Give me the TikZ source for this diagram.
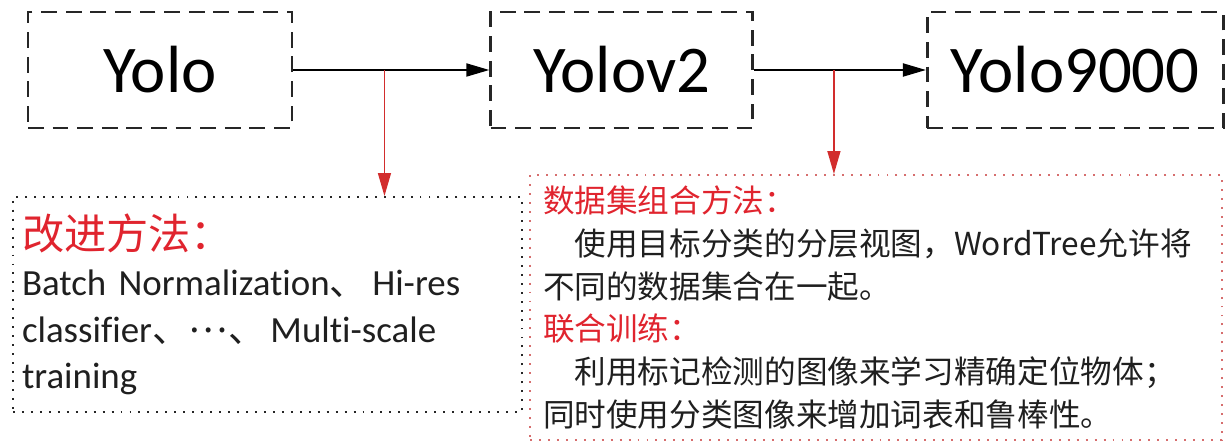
\documentclass[tikz,border=0pt]{standalone}
\usepackage{fontspec}
\setmainfont{Carlito}[Ligatures=NoCommon]
\newfontfamily\cjk{Noto Sans CJK SC}
\usetikzlibrary{arrows.meta,positioning,calc}
\definecolor{inkgray}{RGB}{38,38,38}
\definecolor{headred}{RGB}{224,36,46}
\definecolor{arrowred}{RGB}{210,45,45}
\definecolor{dotred}{RGB}{214,110,110}

\begin{document}
\begin{tikzpicture}[
 stage/.style={draw=inkgray, line width=1.5pt, dash pattern=on 9pt off 5pt, minimum height=2.32cm, inner sep=0pt, font=\fontsize{38}{44}\selectfont},
 notebox/.style={line width=1.1pt, dash pattern=on 1.1pt off 4pt, align=left, text=black!88},
 arr/.style={-{Triangle[length=4.6mm, width=2.6mm]}, line width=1.1pt, color=black},
 redarr/.style={-{Triangle[length=4.6mm, width=2.6mm]}, line width=.8pt, color=arrowred}]
\useasboundingbox (0,0) rectangle (24.5,-8.9);
\node[stage, minimum width=5.28cm] (yolo) at (3.2,-1.4) {Yolo};
\node[stage, minimum width=5.24cm, right=3.92cm of yolo] (yolov2) {Yolov2};
\node[stage, minimum width=5.92cm, right=3.44cm of yolov2] (yolo9000) {Yolo9000};
\coordinate (b1) at ($(yolo.east)!.465!(yolov2.west)$);
\coordinate (b2) at ($(yolov2.east)!.465!(yolo9000.west)$);
\node[notebox, draw=inkgray, minimum width=10.18cm, minimum height=4.3cm, text width=9.82cm, inner xsep=.18cm, font=\fontsize{21}{26.4}\selectfont] (improve) at (5.35,-6.09) {\textcolor{headred}{\cjk\fontsize{24}{26.4}\selectfont 改进方法：}\\ Batch Normalization{\cjk 、}\hspace{.15em}Hi-res\\ classifier{\cjk 、}\raisebox{.28em}{\cjk ⋯}{\cjk 、}\hspace{.15em}Multi-scale\\ training};
\node[notebox, draw=dotred, minimum width=13.84cm, minimum height=5.3cm, text width=13.32cm, inner xsep=.26cm, font=\cjk\fontsize{18}{24.4}\selectfont] (merge) at (17.52,-6.15) {\textcolor{headred}{数据集组合方法：}\\ \hspace*{1em}使用目标分类的分层视图，WordTree允许将\\ 不同的数据集合在一起。\\ \textcolor{headred}{联合训练：}\\ \hspace*{1em}利用标记检测的图像来学习精确定位物体；\\ 同时使用分类图像来增加词表和鲁棒性。};
\draw[arr] (yolo) -- (yolov2);
\draw[arr] (yolov2) -- (yolo9000);
\draw[redarr] (b1) -- (b1 |- improve.north);
\draw[redarr] (b2) -- (b2 |- merge.north);
\end{tikzpicture}
\end{document}
